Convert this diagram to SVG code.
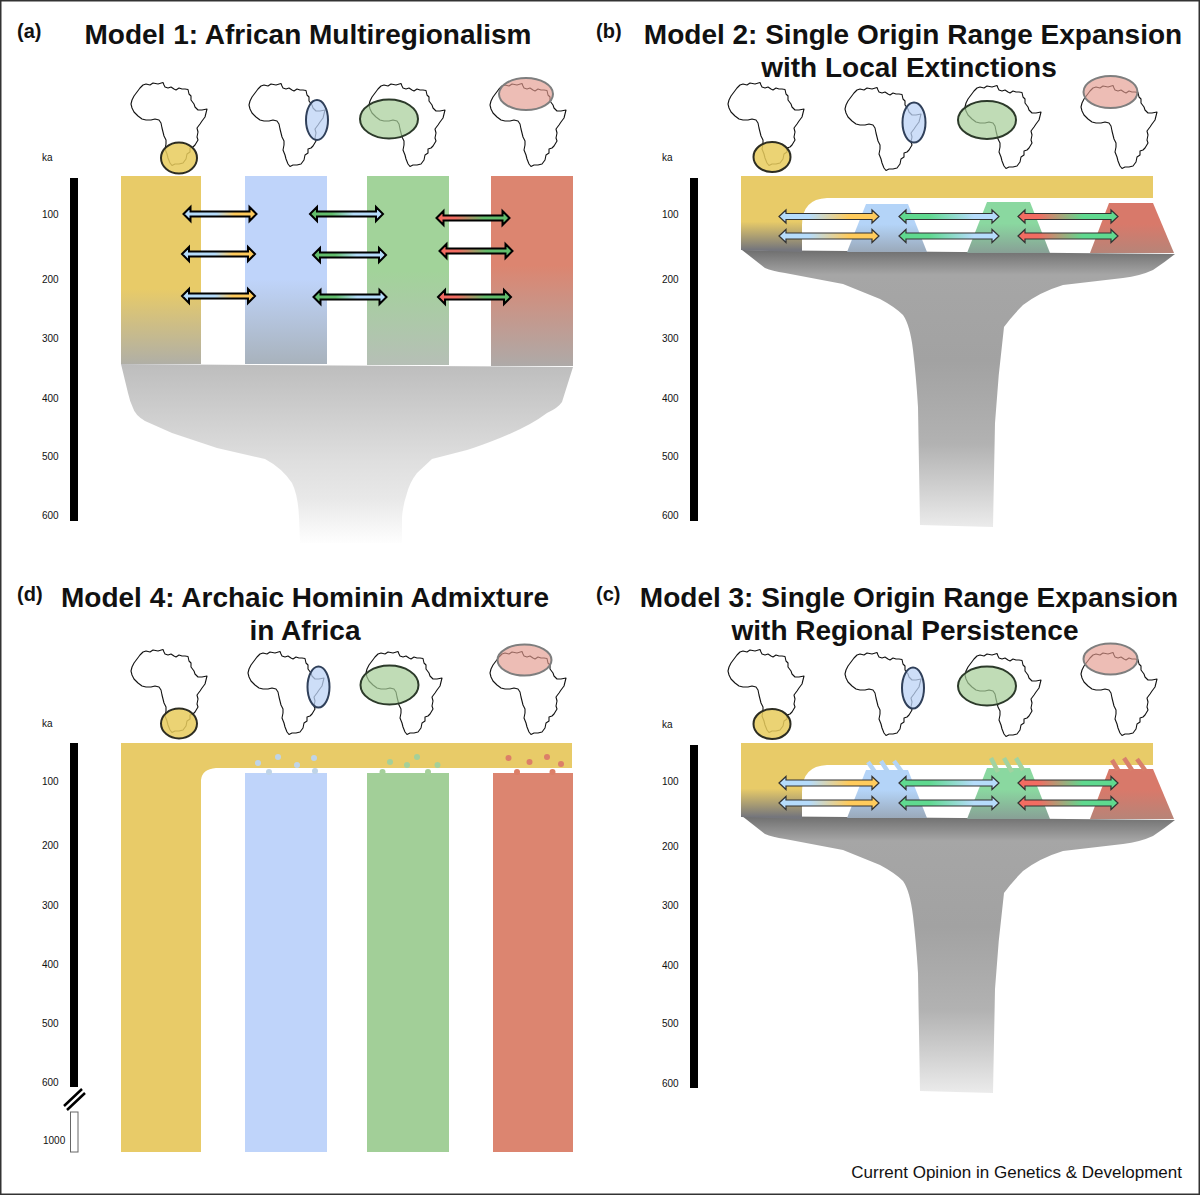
<svg xmlns="http://www.w3.org/2000/svg" xmlns:xlink="http://www.w3.org/1999/xlink" width="1200" height="1195" viewBox="0 0 1200 1195">
<style>
text{font-family:"Liberation Sans",Arial,sans-serif;fill:#111}
.t{font-size:28px;font-weight:700;text-anchor:middle}
.p{font-size:20px;font-weight:700}
.k{font-size:10px}
.c{font-size:17px;text-anchor:end}
.map{fill:#fff;stroke:#111;stroke-width:1.1;stroke-linejoin:round}
.ey{fill:#e8cb5c;fill-opacity:.85;stroke:#2d2d22;stroke-width:2}
.eb{fill:#bcd3f6;fill-opacity:.75;stroke:#30405a;stroke-width:2}
.eg{fill:#a5cd97;fill-opacity:.7;stroke:#2c3a2a;stroke-width:2}
.er{fill:#e39a8e;fill-opacity:.65;stroke:#7e7e7e;stroke-width:2}
.bar{fill:#000}
.by{fill:url(#aBY)}.gb{fill:url(#aGB)}.rg{fill:url(#aRG)}
.by2{fill:url(#aBY2)}.gb2{fill:url(#aGB2)}.rg2{fill:url(#aRG2)}
.arw{stroke:#000;stroke-width:2;stroke-linejoin:miter}
.arw2{stroke:#333;stroke-width:1.2;stroke-linejoin:miter}
.sb{stroke:#b4d4f6;stroke-width:4.5}.sg{stroke:#a2d3a0;stroke-width:4.5}.sr{stroke:#d8806c;stroke-width:4.5}
</style>
<defs>
<path id="africa" class="map" d="M12,3 15,2 19,3 22,1 27,2 32,.5 33,3 34,5 37,6 40,5 43,7 45,8 48,6 51,7 54,7 57,7.500 58,12 60,14 60,18 63,22 64,25 67,28 71,28 76,27 75,31 74,35 71,39 69,42 66,46 67,50 66,55 67,58 64,63 62,65 59,66 59,70 56,72 55,77 52,81 48,82 44,82 41,83.500 39,81 37,76 36,72 34,67 35,62 35,58 33,54 32,50 31,46 30,41 28,38 24,37 20,38 15,38 11,37 7,34 3,30 1,26 0,22 1,18 3,14 6,10 9,6Z"/>
<polygon id="a73" points="0,0 7,-7 7,-2.500 66,-2.500 66,-7 73,0 66,7 66,2.500 7,2.500 7,7"/>
<polygon id="a100" points="0,0 7,-6.500 7,-3 93,-3 93,-6.500 100,0 93,6.500 93,3 7,3 7,6.500"/>
<linearGradient id="aBY"><stop offset=".45" stop-color="#b6dcfb"/><stop offset=".7" stop-color="#ffcb5c"/></linearGradient>
<linearGradient id="aGB"><stop offset=".3" stop-color="#62bd6c"/><stop offset=".6" stop-color="#b6dcfb"/></linearGradient>
<linearGradient id="aRG"><stop offset=".25" stop-color="#f26c62"/><stop offset=".65" stop-color="#62bd6c"/></linearGradient>
<linearGradient id="aBY2"><stop offset=".3" stop-color="#b6dcfb"/><stop offset=".7" stop-color="#ffcb5c"/></linearGradient>
<linearGradient id="aGB2"><stop offset=".3" stop-color="#5fd98f"/><stop offset=".75" stop-color="#b6dcfb"/></linearGradient>
<linearGradient id="aRG2"><stop offset=".2" stop-color="#f26c62"/><stop offset=".65" stop-color="#5fd98f"/></linearGradient>
<linearGradient id="cy" x2="0" y2="1"><stop offset=".6" stop-color="#e8cb68"/><stop offset="1" stop-color="#b0afa6"/></linearGradient>
<linearGradient id="cb" x2="0" y2="1"><stop offset=".55" stop-color="#bfd4fa"/><stop offset="1" stop-color="#a8b2bc"/></linearGradient>
<linearGradient id="cg" x2="0" y2="1"><stop offset=".5" stop-color="#a2d39a"/><stop offset="1" stop-color="#b6bfb6"/></linearGradient>
<linearGradient id="cr" x2="0" y2="1"><stop offset=".47" stop-color="#dc8570"/><stop offset="1" stop-color="#aeaaa8"/></linearGradient>
<linearGradient id="fa" x2="0" y2="1"><stop offset="0" stop-color="#bdbdbd"/><stop offset=".55" stop-color="#dfdfdf"/><stop offset=".75" stop-color="#e8e8e8"/><stop offset="1" stop-color="#fefefe"/></linearGradient>
<linearGradient id="fb" x2="0" y2="1"><stop offset="0" stop-color="#6e6e6e"/><stop offset=".09" stop-color="#a6a6a6"/><stop offset=".4" stop-color="#a2a2a2"/><stop offset=".7" stop-color="#b2b2b2"/><stop offset="1" stop-color="#ebebeb"/></linearGradient>
<linearGradient id="by" x2="0" y2="1"><stop offset=".6" stop-color="#e8cb68"/><stop offset=".97" stop-color="#75767c"/></linearGradient>
<linearGradient id="tb" x2="0" y2="1"><stop offset=".42" stop-color="#b4d4f8"/><stop offset="1" stop-color="#9aa9ba"/></linearGradient>
<linearGradient id="tg" x2="0" y2="1"><stop offset=".42" stop-color="#8ad8a0"/><stop offset="1" stop-color="#88a096"/></linearGradient>
<linearGradient id="tr" x2="0" y2="1"><stop offset=".42" stop-color="#d8796a"/><stop offset="1" stop-color="#b78478"/></linearGradient>
<path id="ffb" fill="url(#fb)" d="M742,250 L1175,254 Q1165,262 1153,270 Q1140,276 1123,278 L1063,285 Q1040,292 1023,305 Q1012,316 1004,327 Q998,375 995,423 L993,527 L920,525 L918,407 Q916,375 913,350 Q910,325 903,315 Q895,307 880,299 L843,284 L785,273 Q772,271 765,268Z"/>
<path id="band" fill="url(#by)" d="M741,176H1153V198H827Q802,199 802,225V252L741,250Z"/>
<polygon id="tb1" fill="url(#tb)" points="866,204 908,204 927,252 847,252"/>
<polygon id="tg1" fill="url(#tg)" points="987,202 1030,202 1050,253 967,253"/>
<polygon id="tr1" fill="url(#tr)" points="1109,203 1153,203 1174,253 1090,253"/>
</defs>
<rect width="1200" height="1195" fill="#fff"/>
<rect x=".75" y=".75" width="1198.500" height="1193.500" fill="none" stroke="#333" stroke-width="1.500"/>

<g id="panel-a">
<text class="p" x="17" y="38">(a)</text>
<text class="t" x="308" y="44">Model 1: African Multiregionalism</text>
<g id="a-axis"><rect class="bar" x="70" y="178" width="8" height="343"/>
<text class="k" x="42" y="161">ka</text><text class="k" x="42" y="218">100</text><text class="k" x="42" y="283">200</text><text class="k" x="42" y="342">300</text><text class="k" x="42" y="402">400</text><text class="k" x="42" y="460">500</text><text class="k" x="42" y="519">600</text></g>
<g id="a-funnel"><path fill="url(#fa)" d="M121,364 L573,367 L562,402 Q558,408 547,413 Q530,426 500,438 Q480,446 467,450 L432,459 L417,473 Q410,482 407,493 Q403,505 402,517 L402,543 L300,543 L299,517 Q298,495 292,483 Q282,468 265,459 L217,448 L172,433 L145,421 Q135,415 133,408 Q130,402 128,393Z"/></g>
<g id="a-yellow"><rect x="121" y="176" width="80" height="188" fill="url(#cy)"/><use href="#africa" x="131" y="82"/><ellipse class="ey" cx="179" cy="158" rx="18" ry="15.500"/></g>
<g id="a-blue"><rect x="245" y="176" width="82" height="188" fill="url(#cb)"/><use href="#africa" x="249" y="83"/><ellipse class="eb" cx="317" cy="120" rx="11" ry="20"/></g>
<g id="a-green"><rect x="367" y="176" width="82" height="189" fill="url(#cg)"/><use href="#africa" x="369" y="83"/><ellipse class="eg" cx="389" cy="119" rx="29" ry="19.500"/></g>
<g id="a-red"><rect x="491" y="176" width="82" height="190" fill="url(#cr)"/><use href="#africa" x="490" y="83"/><ellipse class="er" cx="526" cy="94" rx="27" ry="16"/></g>
</g>

<g id="panel-b">
<text class="p" x="596" y="38">(b)</text>
<text class="t" x="913" y="44">Model 2: Single Origin Range Expansion</text>
<text class="t" x="909" y="77">with Local Extinctions</text>
<g id="b-axis"><rect class="bar" x="690" y="178" width="8" height="343"/>
<text class="k" x="662" y="161">ka</text><text class="k" x="662" y="218">100</text><text class="k" x="662" y="283">200</text><text class="k" x="662" y="342">300</text><text class="k" x="662" y="402">400</text><text class="k" x="662" y="460">500</text><text class="k" x="662" y="519">600</text></g>
<g id="b-funnel"><use href="#ffb"/></g>
<g id="b-yellow"><use href="#band"/><use href="#africa" x="728" y="82"/><ellipse class="ey" cx="772" cy="157" rx="18.500" ry="15"/></g>
<g id="b-blue"><use href="#tb1"/><use href="#africa" x="845" y="87"/><ellipse class="eb" cx="914" cy="122.500" rx="11.500" ry="20"/></g>
<g id="b-green"><use href="#tg1"/><use href="#africa" x="965" y="85"/><ellipse class="eg" cx="987" cy="120" rx="29" ry="19"/></g>
<g id="b-red"><use href="#tr1"/><use href="#africa" x="1081" y="85"/><ellipse class="er" cx="1110.500" cy="92" rx="27" ry="16"/></g>
</g>

<g id="panel-d">
<text class="p" x="17" y="601">(d)</text>
<text class="t" x="305" y="607">Model 4: Archaic Hominin Admixture</text>
<text class="t" x="305" y="640">in Africa</text>
<g id="d-axis"><rect class="bar" x="70" y="743" width="8" height="344"/>
<path d="M64,1106 82,1089M67,1110 85,1093" stroke="#000" stroke-width="2.500" fill="none"/>
<rect x="70.500" y="1112" width="7.500" height="40" fill="#fff" stroke="#666"/>
<text class="k" x="42" y="727">ka</text><text class="k" x="42" y="785">100</text><text class="k" x="42" y="849">200</text><text class="k" x="42" y="909">300</text><text class="k" x="42" y="968">400</text><text class="k" x="42" y="1027">500</text><text class="k" x="42" y="1086">600</text><text class="k" x="43" y="1144">1000</text></g>
<g id="d-yellow"><path fill="#e8cb68" d="M121,743H572V768H216Q202,769 201,780V1152H121Z"/><use href="#africa" x="131" y="649"/><ellipse class="ey" cx="179" cy="723.500" rx="18" ry="15"/></g>
<g id="d-blue"><rect x="245" y="773" width="82" height="379" fill="#bfd4fa"/><g fill="#bfd4e8"><circle cx="258" cy="763" r="3"/><circle cx="278" cy="757" r="3"/><circle cx="297" cy="765" r="3"/><circle cx="314" cy="758" r="3"/><circle cx="269" cy="772" r="3"/><circle cx="315" cy="771" r="3"/></g><use href="#africa" x="248" y="651"/><ellipse class="eb" cx="318.500" cy="687" rx="11" ry="20.500"/></g>
<g id="d-green"><rect x="367" y="773" width="82" height="379" fill="#a2cf98"/><g fill="#a4d09a"><circle cx="390" cy="762" r="3"/><circle cx="417" cy="757" r="3"/><circle cx="407" cy="765" r="3"/><circle cx="437.500" cy="765" r="3"/><circle cx="382.500" cy="772" r="3"/><circle cx="428" cy="772" r="3"/></g><use href="#africa" x="366" y="651"/><ellipse class="eg" cx="389.500" cy="685" rx="29" ry="19.500"/></g>
<g id="d-red"><rect x="493" y="773" width="80" height="379" fill="#dc8570"/><g fill="#dc7f68"><circle cx="508.500" cy="758" r="3"/><circle cx="529.500" cy="762" r="3"/><circle cx="547" cy="757" r="3"/><circle cx="561" cy="764" r="3"/><circle cx="517" cy="772" r="3"/><circle cx="552.500" cy="772" r="3"/></g><use href="#africa" x="490" y="651"/><ellipse class="er" cx="524.500" cy="660" rx="27" ry="15.500"/></g>
</g>

<g id="panel-c">
<text class="p" x="596" y="601">(c)</text>
<text class="t" x="909" y="607">Model 3: Single Origin Range Expansion</text>
<text class="t" x="905" y="640">with Regional Persistence</text>
<g id="c-axis"><rect class="bar" x="690" y="745" width="8" height="343"/>
<text class="k" x="662" y="728">ka</text><text class="k" x="662" y="785">100</text><text class="k" x="662" y="850">200</text><text class="k" x="662" y="909">300</text><text class="k" x="662" y="969">400</text><text class="k" x="662" y="1027">500</text><text class="k" x="662" y="1087">600</text></g>
<g id="c-funnel"><use href="#ffb" y="566"/></g>
<g id="c-yellow"><use href="#band" y="567"/><use href="#africa" x="728" y="649"/><ellipse class="ey" cx="772" cy="724" rx="18.500" ry="15"/></g>
<g id="c-blue"><use href="#tb1" y="566"/><path class="sb" d="M868,762 875,772M881,761 888,772M894,761 902,772"/><use href="#africa" x="845" y="652"/><ellipse class="eb" cx="913" cy="688" rx="11" ry="20.500"/></g>
<g id="c-green"><use href="#tg1" y="566"/><path class="sg" d="M991,758 998,772M1004,758 1012,772M1016,758 1023,770"/><use href="#africa" x="965" y="653"/><ellipse class="eg" cx="987" cy="686" rx="29" ry="19.500"/></g>
<g id="c-red"><use href="#tr1" y="566"/><path class="sr" d="M1112,760 1118,770M1124,758 1132,770M1137,759 1145,770"/><use href="#africa" x="1081" y="652"/><ellipse class="er" cx="1110.500" cy="659" rx="27" ry="15.500"/></g>
</g>

<g id="connectors">
<g class="arw">
<use href="#a73" class="by" transform="translate(183.500,214)"/><use href="#a73" class="by" transform="translate(182,254)"/><use href="#a73" class="by" transform="translate(182,296)"/>
<use href="#a73" class="gb" transform="translate(310,214)"/><use href="#a73" class="gb" transform="translate(313,255)"/><use href="#a73" class="gb" transform="translate(313.500,297)"/>
<use href="#a73" class="rg" transform="translate(436.500,218)"/><use href="#a73" class="rg" transform="translate(439.500,251)"/><use href="#a73" class="rg" transform="translate(438,297)"/>
</g>
<g class="arw2">
<use href="#a100" class="by2" transform="translate(779,216.500)"/><use href="#a100" class="by2" transform="translate(779,236)"/>
<use href="#a100" class="gb2" transform="translate(899,216.500)"/><use href="#a100" class="gb2" transform="translate(899,236)"/>
<use href="#a100" class="rg2" transform="translate(1018,216.500)"/><use href="#a100" class="rg2" transform="translate(1018,236)"/>
<use href="#a100" class="by2" transform="translate(779,783)"/><use href="#a100" class="by2" transform="translate(779,803)"/>
<use href="#a100" class="gb2" transform="translate(899,783)"/><use href="#a100" class="gb2" transform="translate(899,803)"/>
<use href="#a100" class="rg2" transform="translate(1018,783)"/><use href="#a100" class="rg2" transform="translate(1018,803)"/>
</g>
</g>
<text class="c" x="1182" y="1178">Current Opinion in Genetics &amp; Development</text>
</svg>
